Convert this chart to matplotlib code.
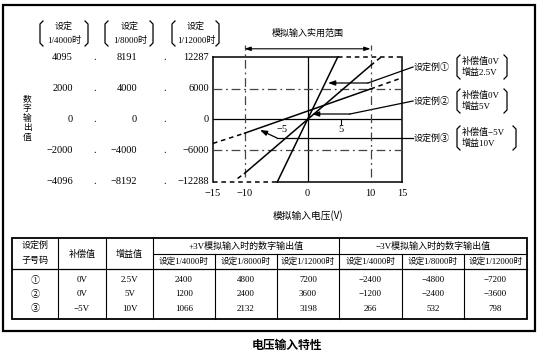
import matplotlib
matplotlib.use('Agg')
import matplotlib.pyplot as plt
from matplotlib import transforms
from matplotlib.patches import Rectangle

plt.rcParams['font.family'] = ['Liberation Serif', 'Noto Sans CJK SC']
CJK = ['Noto Sans CJK SC', 'DejaVu Sans']

# %% data
x_ticks = [-15, -10, 0, 10, 15]
y_levels = [12287, 6000, 0, -6000, -12288]
col_4000 = ['4095', '2000', '0', '−2000', '−4096']
col_8000 = ['8191', '4000', '0', '−4000', '−8192']
col_12000 = ['12287', '6000', '0', '−6000', '−12288']
res_heads = ['1/4000时', '1/8000时', '1/12000时']

# setting examples (1/12000 scale): dashed - solid - dashed
ex1_x = [-15, -4.8, 4.8, 15]
ex1_y = [-12288, -12288, 12287, 12287]
ex2_x = [-11.1, -10, 10, 11.7]
ex2_y = [-11600, -10600, 10600, 12287]
ex3_x = [-15, -10, 10, 15]
ex3_y = [-4700, -2700, 6000, 8200]

ex_ids = ['①', '②', '③']
offsets = ['0V', '0V', '−5V']
gains = ['2.5V', '5V', '10V']
pos3v = [[2400, 4800, 7200], [1200, 2400, 3600], [1066, 2132, 3198]]
neg3v = [[-2400, -4800, -7200], [-1200, -2400, -3600], [266, 532, 798]]


def fmt(v):
    return ('−%d' % -v) if v < 0 else '%d' % v


def bracket(a, x, y0, y1, side, h=3):
    d = h if side == 'l' else -h
    a.plot([x + d, x, x, x + d], [y0, y0 + h, y1 - h, y1], color='k', lw=0.9)


# %% figure
W, H = 555, 360
fig = plt.figure(figsize=(W / 100, H / 100), dpi=100)
bg = fig.add_axes([0, 0, 1, 1])
bg.set_xlim(0, W)
bg.set_ylim(H, 0)
bg.axis('off')
bg.add_patch(Rectangle((3, 5), 532, 326, fill=False, lw=1.6, ec='k'))

L, R, T, B = 213, 402, 57, 182
ax = fig.add_axes([L / W, 1 - B / H, (R - L) / W, (B - T) / H])
ax.set_xlim(-15, 15)
ax.set_ylim(-12288, 12287)
ax.patch.set_visible(False)
for s in ax.spines.values():
    s.set_visible(False)
ax.set_yticks([])
ax.set_xticks(x_ticks, [fmt(v) for v in x_ticks])
ax.tick_params(length=0, pad=5, labelsize=7.5)

dash = (0, (3, 2.5))
ddot = (0, (7, 3, 1.5, 3))
lw = 1.1

# frame + axes
ax.plot([-15, -15], [-12288, 12287], color='k', lw=lw, clip_on=False)
ax.plot([15, 15], [-12288, 12287], color='k', lw=lw, clip_on=False)
ax.plot([-15, ex1_x[2]], [12287, 12287], color='k', lw=lw, clip_on=False)
ax.plot([ex1_x[1], 15], [-12288, -12288], color='k', lw=lw, clip_on=False)
ax.axhline(0, color='k', lw=0.9)
ax.axvline(0, color='k', lw=0.9)

# reference grid
for yv in (6000, -6000):
    ax.plot([-15, 15], [yv, yv], color='#444', lw=0.9, ls=ddot)
for xv in (-10, 10):
    ax.plot([xv, xv], [-11300, 14700], color='#444', lw=0.9, ls=ddot, clip_on=False)
ax.annotate('', xy=(-10, 13900), xytext=(10, 13900), annotation_clip=False,
            arrowprops=dict(arrowstyle='<|-|>,head_length=0.6,head_width=0.2',
                            mutation_scale=6, color='k', lw=0.8, shrinkA=0, shrinkB=0))

# setting example lines
for xs, ys in ((ex1_x, ex1_y), (ex2_x, ex2_y), (ex3_x, ex3_y)):
    ax.plot(xs[0:2], ys[0:2], color='k', lw=lw, ls=dash, clip_on=False)
    ax.plot(xs[1:3], ys[1:3], color='k', lw=lw, clip_on=False)
    ax.plot(xs[2:4], ys[2:4], color='k', lw=lw, ls=dash, clip_on=False)

ax.text(-4.0, -1900, '−5', ha='center', va='center', fontsize=7.5)
ax.text(5.3, -1900, '5', ha='center', va='center', fontsize=7.5)
ax.plot([5.3, 5.3], [0, -800], color='k', lw=0.8)

# left value columns
tr = transforms.blended_transform_factory(bg.transData, ax.transData)
for yv, a, b, c in zip(y_levels, col_4000, col_8000, col_12000):
    ax.text(73, yv, a, transform=tr, ha='right', va='center', fontsize=7.5)
    ax.text(137, yv, b, transform=tr, ha='right', va='center', fontsize=7.5)
    ax.text(209, yv, c, transform=tr, ha='right', va='center', fontsize=7.5)
    ax.text(95, yv, '.', transform=tr, ha='center', va='center', fontsize=7.5)
    ax.text(165, yv, '.', transform=tr, ha='center', va='center', fontsize=7.5)

for cx, xl, xr, head in zip((64, 130, 196), (40, 105, 172), (88, 153, 219), res_heads):
    bg.text(cx, 27, '设定', ha='center', va='center', fontsize=6.5, family=CJK)
    bg.text(cx, 40, head, ha='center', va='center', fontsize=6.5)
    bracket(bg, xl, 21, 46, 'l')
    bracket(bg, xr, 21, 46, 'r')

for i, ch in enumerate('数字输出值'):
    bg.text(27, 99 + i * 9.6, ch, ha='center', va='center', fontsize=6.3, family=CJK)

bg.text(308, 33, '模拟输入实用范围', ha='center', va='center', fontsize=6.5, family=CJK)
bg.text(308, 216, '模拟输入电压(V)', ha='center', va='center', fontsize=7, family=CJK)

# leaders and example labels
leaders = [[(413, 67), (368, 83), (328, 83)],
           [(413, 101), (350, 114), (312, 114)],
           [(413, 138), (277, 138), (260, 130)]]
notes = [('补偿值0V', '增益2.5V', 507), ('补偿值0V', '增益5V', 507), ('补偿值−5V', '增益10V', 516)]
for k, (pts, (n1, n2, xr)) in enumerate(zip(leaders, notes)):
    bg.plot([p[0] for p in pts[:2]], [p[1] for p in pts[:2]], color='k', lw=0.9)
    bg.annotate('', xy=pts[2], xytext=pts[1],
                arrowprops=dict(arrowstyle='-|>,head_length=0.7,head_width=0.25',
                                mutation_scale=6, color='k', lw=0.9, shrinkA=0, shrinkB=0))
    yc = pts[0][1]
    bg.text(414, yc, '设定例' + ex_ids[k], ha='left', va='center', fontsize=6.5)
    bg.text(462, yc - 5.5, n1, ha='left', va='center', fontsize=6.5)
    bg.text(462, yc + 5.5, n2, ha='left', va='center', fontsize=6.5)
    bracket(bg, 457, yc - 12, yc + 12, 'l')
    bracket(bg, xr, yc - 12, yc + 12, 'r')

# %% table
xs = [12, 58, 106, 153, 215, 277, 339, 402, 464, 527]
ty0, tym, tyh, ty1 = 238, 254, 269, 319
bg.add_patch(Rectangle((xs[0], ty0), xs[-1] - xs[0], ty1 - ty0, fill=False, lw=1.3, ec='k'))
bg.plot([xs[0], xs[-1]], [tyh, tyh], color='k', lw=0.9)
bg.plot([xs[3], xs[-1]], [tym, tym], color='k', lw=0.8)
for i, x in enumerate(xs[1:-1], start=1):
    top = ty0 if i in (1, 2, 3, 6) else tym
    bg.plot([x, x], [top, ty1], color='k', lw=0.8)

bg.text(35, 245, '设定例', ha='center', va='center', fontsize=6.5)
bg.text(35, 261, '子号码', ha='center', va='center', fontsize=6.5)
bg.text(82, 254, '补偿值', ha='center', va='center', fontsize=6.5)
bg.text(129, 254, '增益值', ha='center', va='center', fontsize=6.5)
bg.text(246, 246, '+3V模拟输入时的数字输出值', ha='center', va='center', fontsize=6.5)
bg.text(433, 246, '−3V模拟输入时的数字输出值', ha='center', va='center', fontsize=6.5)
for j in range(6):
    bg.text((xs[3 + j] + xs[4 + j]) / 2, 261.5, '设定' + res_heads[j % 3], ha='center',
            va='center', fontsize=6.2)

row_y = [280, 294.5, 309]
for i, yr in enumerate(row_y):
    vals = [ex_ids[i], offsets[i], gains[i]] + [fmt(v) for v in pos3v[i] + neg3v[i]]
    for j, v in enumerate(vals):
        bg.text((xs[j] + xs[j + 1]) / 2, yr, v, ha='center', va='center', fontsize=6.5)

bg.text(287, 345, '电压输入特性', ha='center', va='center', fontsize=8.5,
        fontweight='bold', family=CJK)

fig.savefig('out.png', dpi=100)
